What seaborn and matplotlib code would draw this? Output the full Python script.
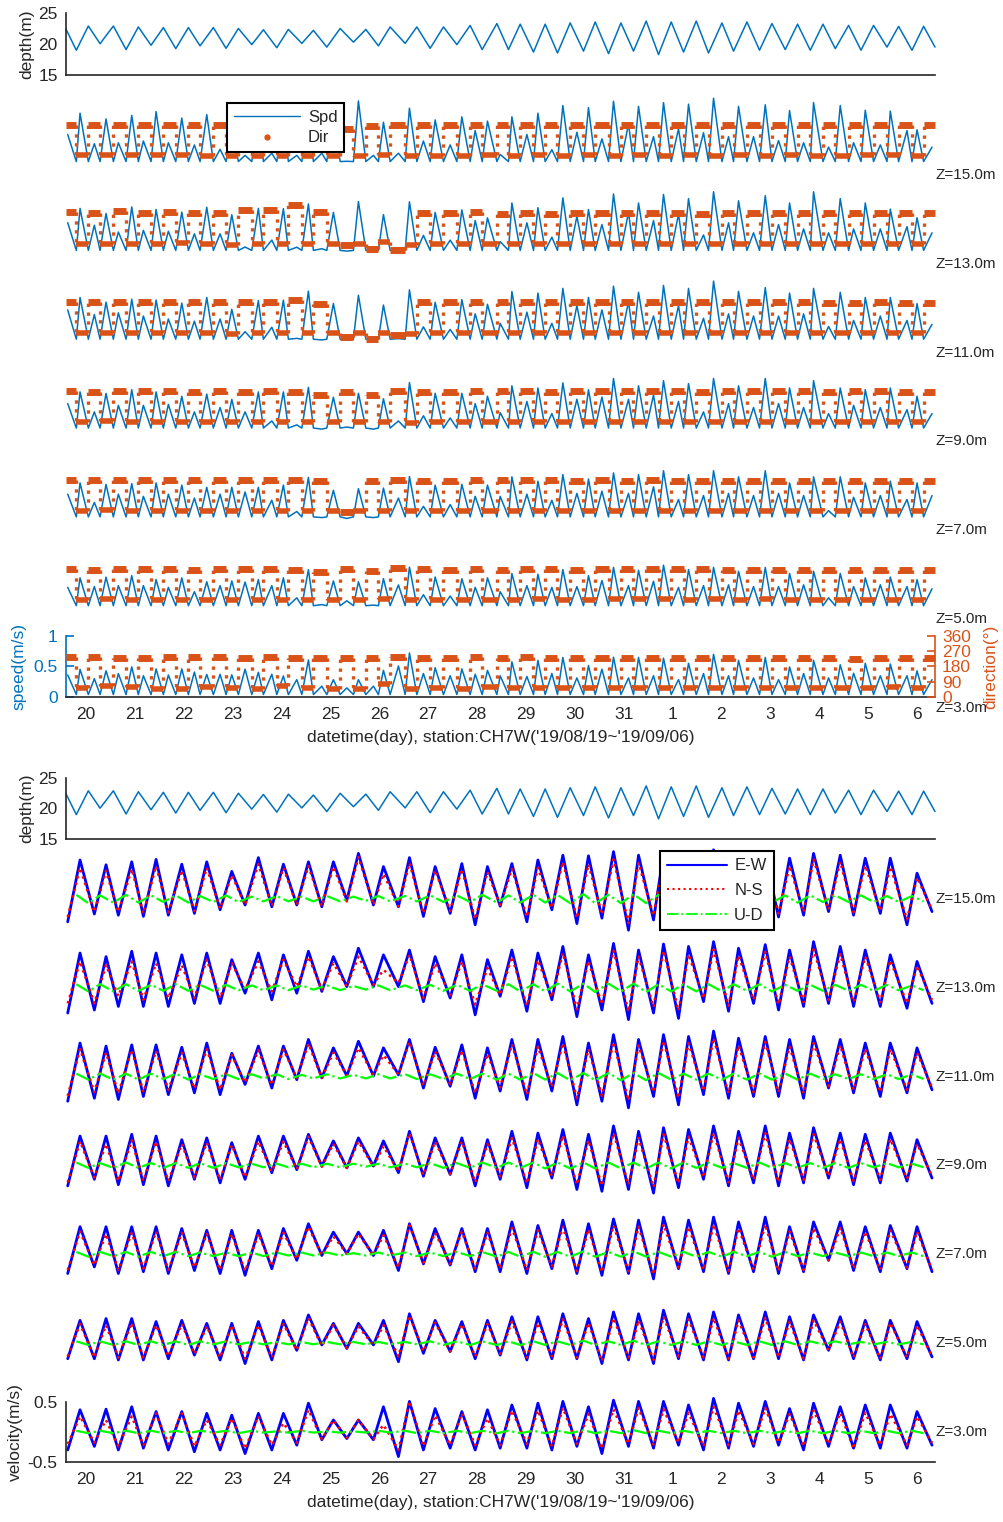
import numpy as np
import seaborn as sns
import matplotlib.pyplot as plt
from matplotlib.lines import Line2D

# ---------------- data ----------------
# time in "day of August"; September days continue as 32..37
T_START, T_END = 19.59, 37.37
DAY_TICKS = list(range(20, 38))
DAY_LABELS = ['20', '21', '22', '23', '24', '25', '26', '27', '28', '29', '30', '31',
              '1', '2', '3', '4', '5', '6']

# low water / high water times (also used as slack times)
T_LW = [19.801, 20.287, 20.819, 21.330, 21.836, 22.333, 22.865, 23.391, 23.903, 24.415,
        24.926, 25.471, 25.982, 26.529, 27.041, 27.587, 28.105, 28.643, 29.155, 29.646,
        30.178, 30.690, 31.201, 31.713, 32.225, 32.736, 33.248, 33.780, 34.306, 34.818,
        35.330, 35.856, 36.388, 36.899]
T_HW = [20.047, 20.559, 21.070, 21.582, 22.094, 22.605, 23.117, 23.629, 24.140, 24.652,
        25.199, 25.725, 26.222, 26.768, 27.313, 27.859, 28.406, 28.883, 29.394, 29.906,
        30.418, 30.944, 31.461, 31.973, 32.485, 33.011, 33.522, 34.034, 34.558, 35.078,
        35.602, 36.113, 36.625, 37.137]
# times of flood (positive) and ebb (negative) current extremes
T_FLOOD = [19.877, 20.409, 20.935, 21.433, 21.959, 22.470, 22.982, 23.526, 24.038, 24.550,
           25.061, 25.573, 26.085, 26.617, 27.143, 27.689, 28.213, 28.713, 29.245, 29.756,
           30.280, 30.792, 31.304, 31.815, 32.327, 32.839, 33.350, 33.897, 34.394, 34.885,
           35.431, 35.943, 36.455, 37.002]
T_EBB = [19.625, 20.170, 20.661, 21.173, 21.684, 22.217, 22.743, 23.254, 23.801, 24.312,
         24.824, 25.336, 25.880, 26.392, 26.903, 27.450, 27.962, 28.473, 29.020, 29.531,
         30.043, 30.555, 31.099, 31.611, 32.122, 32.634, 33.146, 33.657, 34.169, 34.681,
         35.192, 35.704, 36.251, 36.797, 37.309]

DEPTH_LW = [19.0, 20.05, 19.1, 19.8, 19.25, 19.7, 19.3, 19.9, 19.4, 20.1, 19.5, 20.3, 19.7,
            20.1, 19.3, 19.9, 19.1, 19.1, 18.7, 18.55, 18.85, 18.45, 18.85, 18.3, 18.7, 18.55,
            18.85, 19.0, 19.1, 19.0, 19.25, 19.0, 19.5, 19.0]
DEPTH_HW = [22.9, 22.9, 22.75, 22.65, 22.65, 22.65, 22.5, 22.3, 22.35, 22.2, 22.5, 22.35,
            22.75, 22.75, 22.75, 23.0, 23.3, 23.2, 23.2, 23.4, 23.55, 23.4, 23.7, 23.55, 23.7,
            23.4, 23.55, 23.3, 23.2, 23.2, 23.0, 23.0, 22.85, 22.85]
DEPTH_ENDS = [22.4, 19.5]

Z_LABELS = ['Z=15.0m', 'Z=13.0m', 'Z=11.0m', 'Z=9.0m', 'Z=7.0m', 'Z=5.0m', 'Z=3.0m']

# E-W velocity at flood / ebb extremes, one row per level (Z=15 ... Z=3)
EW_FLOOD = [
    [0.65, 0.57, 0.62, 0.66, 0.58, 0.62, 0.46, 0.69, 0.58, 0.62, 0.62, 0.76, 0.54, 0.69, 0.54, 0.59, 0.54,
     0.59, 0.65, 0.73, 0.72, 0.79, 0.73, 0.76, 0.76, 0.82, 0.73, 0.73, 0.68, 0.76, 0.73, 0.68, 0.68, 0.43],
    [0.58, 0.52, 0.61, 0.58, 0.55, 0.58, 0.47, 0.58, 0.55, 0.61, 0.52, 0.66, 0.55, 0.63, 0.52, 0.55, 0.47,
     0.63, 0.58, 0.69, 0.55, 0.74, 0.63, 0.73, 0.69, 0.77, 0.66, 0.72, 0.63, 0.77, 0.69, 0.63, 0.55, 0.44],
    [0.56, 0.51, 0.53, 0.53, 0.49, 0.56, 0.39, 0.51, 0.51, 0.62, 0.48, 0.59, 0.48, 0.62, 0.49, 0.53, 0.48,
     0.62, 0.62, 0.67, 0.56, 0.70, 0.62, 0.70, 0.67, 0.76, 0.64, 0.67, 0.62, 0.67, 0.62, 0.56, 0.56, 0.48],
    [0.49, 0.49, 0.52, 0.49, 0.43, 0.46, 0.38, 0.49, 0.49, 0.52, 0.41, 0.46, 0.41, 0.57, 0.46, 0.46, 0.43,
     0.57, 0.54, 0.60, 0.52, 0.66, 0.57, 0.63, 0.60, 0.66, 0.57, 0.66, 0.54, 0.63, 0.54, 0.52, 0.54, 0.43],
    [0.46, 0.46, 0.46, 0.46, 0.43, 0.40, 0.40, 0.40, 0.43, 0.51, 0.37, 0.37, 0.40, 0.51, 0.43, 0.43, 0.43,
     0.54, 0.48, 0.57, 0.51, 0.59, 0.57, 0.62, 0.57, 0.62, 0.54, 0.62, 0.46, 0.54, 0.54, 0.46, 0.48, 0.46],
    [0.38, 0.41, 0.41, 0.36, 0.38, 0.33, 0.33, 0.36, 0.38, 0.47, 0.33, 0.33, 0.38, 0.49, 0.38, 0.36, 0.38,
     0.44, 0.44, 0.49, 0.41, 0.52, 0.49, 0.55, 0.49, 0.52, 0.47, 0.52, 0.44, 0.47, 0.44, 0.38, 0.38, 0.36],
    [0.37, 0.38, 0.42, 0.34, 0.34, 0.31, 0.28, 0.31, 0.31, 0.48, 0.20, 0.20, 0.42, 0.51, 0.39, 0.34, 0.37,
     0.45, 0.48, 0.51, 0.42, 0.53, 0.51, 0.51, 0.45, 0.56, 0.48, 0.51, 0.39, 0.48, 0.42, 0.45, 0.45, 0.34],
]
EW_EBB = [
    [-0.38, -0.25, -0.27, -0.29, -0.27, -0.24, -0.18, -0.10, -0.13, -0.10, -0.13, -0.02, -0.10, -0.13, -0.29, -0.24, -0.43,
     -0.12, -0.38, -0.18, -0.41, -0.32, -0.52, -0.35, -0.45, -0.40, -0.35, -0.35, -0.30, -0.27, -0.21, -0.27, -0.24, -0.43, -0.21],
    [-0.42, -0.37, -0.31, -0.31, -0.31, -0.26, -0.26, -0.09, -0.20, -0.09, -0.06, 0.02, 0.02, 0.02, -0.23, -0.17, -0.45,
     -0.14, -0.39, -0.20, -0.48, -0.37, -0.53, -0.42, -0.51, -0.23, -0.39, -0.26, -0.37, -0.31, -0.26, -0.31, -0.31, -0.34, -0.26],
    [-0.41, -0.36, -0.38, -0.33, -0.30, -0.27, -0.30, -0.13, -0.19, -0.05, -0.02, 0.01, 0.01, 0.03, -0.19, -0.16, -0.36,
     -0.24, -0.38, -0.24, -0.47, -0.41, -0.52, -0.33, -0.47, -0.30, -0.36, -0.33, -0.33, -0.36, -0.19, -0.27, -0.33, -0.27, -0.22],
    [-0.34, -0.23, -0.32, -0.32, -0.34, -0.23, -0.29, -0.23, -0.12, -0.07, -0.01, -0.04, -0.01, -0.12, -0.18, -0.15, -0.34,
     -0.23, -0.37, -0.21, -0.40, -0.43, -0.40, -0.46, -0.37, -0.23, -0.34, -0.29, -0.34, -0.29, -0.21, -0.32, -0.29, -0.26, -0.21],
    [-0.32, -0.21, -0.32, -0.29, -0.32, -0.27, -0.32, -0.35, -0.24, -0.10, -0.02, 0.01, -0.02, -0.27, -0.16, -0.18, -0.29,
     -0.29, -0.32, -0.24, -0.32, -0.35, -0.32, -0.41, -0.24, -0.29, -0.32, -0.29, -0.32, -0.29, -0.10, -0.27, -0.29, -0.24, -0.29],
    [-0.26, -0.26, -0.28, -0.28, -0.26, -0.20, -0.28, -0.34, -0.28, -0.12, -0.03, -0.09, -0.03, -0.31, -0.17, -0.14, -0.26,
     -0.20, -0.28, -0.26, -0.26, -0.34, -0.28, -0.34, -0.26, -0.28, -0.28, -0.26, -0.26, -0.28, -0.12, -0.26, -0.28, -0.26, -0.23],
    [-0.30, -0.24, -0.30, -0.27, -0.30, -0.33, -0.30, -0.36, -0.30, -0.22, -0.13, -0.11, -0.13, -0.41, -0.30, -0.27, -0.30,
     -0.27, -0.27, -0.30, -0.24, -0.36, -0.24, -0.27, -0.22, -0.30, -0.27, -0.24, -0.22, -0.30, -0.24, -0.27, -0.27, -0.27, -0.22],
]
# N-S velocity at the same extremes
NS_FLOOD = [
    [0.52, 0.47, 0.50, 0.55, 0.48, 0.52, 0.40, 0.58, 0.52, 0.55, 0.54, 0.70, 0.42, 0.60, 0.48, 0.50, 0.45,
     0.50, 0.52, 0.62, 0.58, 0.66, 0.60, 0.66, 0.62, 0.70, 0.60, 0.64, 0.55, 0.66, 0.62, 0.56, 0.54, 0.36],
    [0.44, 0.38, 0.44, 0.41, 0.38, 0.47, 0.41, 0.44, 0.47, 0.52, 0.41, 0.52, 0.30, 0.55, 0.41, 0.44, 0.33,
     0.52, 0.46, 0.58, 0.45, 0.62, 0.52, 0.62, 0.56, 0.64, 0.54, 0.60, 0.52, 0.64, 0.56, 0.52, 0.46, 0.37],
    [0.46, 0.40, 0.45, 0.43, 0.40, 0.46, 0.36, 0.44, 0.45, 0.55, 0.40, 0.48, 0.36, 0.58, 0.42, 0.44, 0.38,
     0.54, 0.50, 0.56, 0.46, 0.58, 0.52, 0.60, 0.56, 0.64, 0.52, 0.58, 0.50, 0.56, 0.52, 0.46, 0.46, 0.40],
    [0.40, 0.36, 0.42, 0.40, 0.36, 0.38, 0.34, 0.40, 0.40, 0.48, 0.36, 0.40, 0.32, 0.54, 0.40, 0.40, 0.36,
     0.46, 0.44, 0.50, 0.42, 0.54, 0.46, 0.52, 0.48, 0.54, 0.46, 0.54, 0.44, 0.52, 0.44, 0.42, 0.44, 0.36],
    [0.38, 0.34, 0.36, 0.38, 0.36, 0.34, 0.34, 0.34, 0.36, 0.46, 0.30, 0.34, 0.32, 0.48, 0.36, 0.38, 0.36,
     0.44, 0.40, 0.46, 0.42, 0.48, 0.46, 0.50, 0.46, 0.50, 0.44, 0.50, 0.38, 0.44, 0.44, 0.38, 0.40, 0.38],
    [0.32, 0.30, 0.34, 0.30, 0.32, 0.28, 0.30, 0.30, 0.32, 0.42, 0.30, 0.28, 0.30, 0.46, 0.34, 0.32, 0.32,
     0.36, 0.34, 0.40, 0.34, 0.42, 0.38, 0.44, 0.40, 0.42, 0.38, 0.42, 0.36, 0.38, 0.36, 0.32, 0.34, 0.30],
    [0.26, 0.20, 0.26, 0.31, 0.31, 0.20, 0.23, 0.26, 0.15, 0.37, 0.20, 0.20, 0.12, 0.51, 0.28, 0.31, 0.23,
     0.36, 0.36, 0.40, 0.30, 0.38, 0.40, 0.38, 0.32, 0.42, 0.36, 0.40, 0.30, 0.36, 0.32, 0.32, 0.30, 0.26],
]
NS_EBB = [
    [-0.30, -0.22, -0.22, -0.24, -0.22, -0.20, -0.16, -0.10, -0.12, -0.10, -0.12, -0.04, -0.10, -0.12, -0.24, -0.20, -0.34,
     -0.10, -0.30, -0.15, -0.32, -0.26, -0.40, -0.28, -0.36, -0.32, -0.28, -0.28, -0.24, -0.22, -0.18, -0.22, -0.20, -0.34, -0.18],
    [-0.26, -0.26, -0.14, -0.20, -0.17, -0.17, -0.17, -0.03, -0.06, 0.02, -0.03, 0.02, 0.05, 0.08, -0.17, -0.12, -0.28,
     -0.12, -0.30, -0.16, -0.36, -0.28, -0.40, -0.32, -0.38, -0.18, -0.30, -0.20, -0.28, -0.24, -0.20, -0.24, -0.24, -0.26, -0.20],
    [-0.32, -0.26, -0.28, -0.26, -0.22, -0.20, -0.22, -0.10, -0.14, -0.02, -0.02, 0.02, 0.03, 0.04, -0.15, -0.12, -0.28,
     -0.18, -0.30, -0.18, -0.36, -0.32, -0.40, -0.26, -0.36, -0.24, -0.28, -0.26, -0.26, -0.28, -0.16, -0.22, -0.26, -0.22, -0.18],
    [-0.28, -0.20, -0.26, -0.26, -0.26, -0.20, -0.24, -0.20, -0.10, -0.06, -0.02, -0.04, -0.02, -0.10, -0.16, -0.14, -0.28,
     -0.18, -0.30, -0.18, -0.32, -0.34, -0.32, -0.36, -0.30, -0.20, -0.28, -0.24, -0.28, -0.24, -0.18, -0.26, -0.24, -0.22, -0.18],
    [-0.26, -0.18, -0.26, -0.24, -0.26, -0.22, -0.26, -0.28, -0.20, -0.08, -0.02, 0.01, -0.02, -0.22, -0.14, -0.16, -0.24,
     -0.24, -0.26, -0.20, -0.28, -0.30, -0.28, -0.34, -0.22, -0.26, -0.28, -0.26, -0.28, -0.26, -0.10, -0.24, -0.26, -0.22, -0.26],
    [-0.22, -0.24, -0.24, -0.24, -0.22, -0.18, -0.24, -0.26, -0.24, -0.12, -0.05, -0.08, -0.04, -0.22, -0.14, -0.14, -0.22,
     -0.18, -0.24, -0.22, -0.24, -0.30, -0.24, -0.28, -0.22, -0.24, -0.26, -0.24, -0.24, -0.26, -0.12, -0.24, -0.26, -0.24, -0.22],
    [-0.20, -0.18, -0.24, -0.22, -0.20, -0.24, -0.22, -0.28, -0.22, -0.18, -0.12, -0.10, -0.12, -0.30, -0.24, -0.22, -0.22,
     -0.22, -0.20, -0.24, -0.20, -0.28, -0.20, -0.22, -0.18, -0.24, -0.22, -0.20, -0.18, -0.24, -0.20, -0.28, -0.22, -0.22, -0.18],
]
# U-D velocity: positive extremes near low water, negative near high water
UD_LW = [
    [0.07, 0.06, 0.07, 0.06, 0.06, 0.05, 0.06, 0.04, 0.05, 0.04, 0.05, 0.04, 0.05, 0.05, 0.06, 0.06, 0.07,
     0.06, 0.07, 0.07, 0.08, 0.07, 0.08, 0.07, 0.07, 0.07, 0.06, 0.07, 0.06, 0.06, 0.06, 0.06, 0.05, 0.05],
    [0.06, 0.06, 0.06, 0.05, 0.06, 0.05, 0.05, 0.04, 0.04, 0.04, 0.04, 0.03, 0.04, 0.04, 0.05, 0.05, 0.06,
     0.06, 0.06, 0.07, 0.07, 0.07, 0.07, 0.06, 0.06, 0.06, 0.06, 0.06, 0.05, 0.05, 0.05, 0.05, 0.05, 0.04],
    [0.05, 0.05, 0.05, 0.05, 0.05, 0.04, 0.04, 0.04, 0.04, 0.03, 0.04, 0.03, 0.04, 0.04, 0.04, 0.05, 0.05,
     0.05, 0.06, 0.06, 0.06, 0.06, 0.06, 0.06, 0.05, 0.05, 0.05, 0.05, 0.05, 0.05, 0.04, 0.04, 0.04, 0.04],
    [0.05, 0.04, 0.05, 0.04, 0.04, 0.04, 0.04, 0.03, 0.03, 0.03, 0.03, 0.03, 0.03, 0.03, 0.04, 0.04, 0.05,
     0.05, 0.05, 0.05, 0.05, 0.05, 0.05, 0.05, 0.05, 0.05, 0.04, 0.05, 0.04, 0.04, 0.04, 0.04, 0.04, 0.03],
    [0.04, 0.04, 0.04, 0.04, 0.04, 0.03, 0.03, 0.03, 0.03, 0.03, 0.03, 0.02, 0.03, 0.03, 0.03, 0.04, 0.04,
     0.04, 0.04, 0.04, 0.05, 0.04, 0.05, 0.04, 0.04, 0.04, 0.04, 0.04, 0.04, 0.03, 0.03, 0.03, 0.03, 0.03],
    [0.03, 0.03, 0.03, 0.03, 0.03, 0.03, 0.03, 0.02, 0.02, 0.02, 0.02, 0.02, 0.02, 0.02, 0.03, 0.03, 0.03,
     0.03, 0.03, 0.03, 0.04, 0.03, 0.04, 0.03, 0.03, 0.03, 0.03, 0.03, 0.03, 0.03, 0.03, 0.02, 0.02, 0.02],
    [0.02, 0.02, 0.02, 0.02, 0.02, 0.02, 0.02, 0.02, 0.01, 0.02, 0.01, 0.01, 0.02, 0.02, 0.02, 0.02, 0.02,
     0.02, 0.02, 0.02, 0.03, 0.02, 0.03, 0.02, 0.02, 0.02, 0.02, 0.02, 0.02, 0.02, 0.02, 0.02, 0.02, 0.02],
]
UD_HW = [
    [-0.07, -0.06, -0.06, -0.05, -0.06, -0.05, -0.05, -0.04, -0.04, -0.04, -0.04, -0.03, -0.04, -0.04, -0.05, -0.05, -0.06,
     -0.06, -0.06, -0.07, -0.07, -0.07, -0.07, -0.07, -0.06, -0.06, -0.06, -0.06, -0.06, -0.05, -0.05, -0.05, -0.05, -0.04],
    [-0.06, -0.06, -0.05, -0.05, -0.05, -0.05, -0.04, -0.04, -0.04, -0.03, -0.04, -0.03, -0.04, -0.04, -0.05, -0.05, -0.05,
     -0.06, -0.06, -0.06, -0.07, -0.06, -0.07, -0.06, -0.06, -0.06, -0.05, -0.06, -0.05, -0.05, -0.05, -0.05, -0.04, -0.04],
    [-0.05, -0.05, -0.05, -0.04, -0.05, -0.04, -0.04, -0.03, -0.04, -0.03, -0.03, -0.03, -0.03, -0.04, -0.04, -0.04, -0.05,
     -0.05, -0.05, -0.06, -0.06, -0.06, -0.06, -0.05, -0.05, -0.05, -0.05, -0.05, -0.05, -0.04, -0.04, -0.04, -0.04, -0.04],
    [-0.04, -0.04, -0.04, -0.04, -0.04, -0.04, -0.03, -0.03, -0.03, -0.03, -0.03, -0.02, -0.03, -0.03, -0.04, -0.04, -0.04,
     -0.04, -0.05, -0.05, -0.05, -0.05, -0.05, -0.05, -0.04, -0.04, -0.04, -0.04, -0.04, -0.04, -0.04, -0.03, -0.03, -0.03],
    [-0.04, -0.03, -0.04, -0.03, -0.03, -0.03, -0.03, -0.03, -0.02, -0.02, -0.02, -0.02, -0.02, -0.03, -0.03, -0.03, -0.04,
     -0.04, -0.04, -0.04, -0.04, -0.04, -0.04, -0.04, -0.04, -0.04, -0.03, -0.04, -0.03, -0.03, -0.03, -0.03, -0.03, -0.03],
    [-0.03, -0.03, -0.03, -0.03, -0.03, -0.02, -0.02, -0.02, -0.02, -0.02, -0.02, -0.02, -0.02, -0.02, -0.03, -0.03, -0.03,
     -0.03, -0.03, -0.03, -0.03, -0.03, -0.03, -0.03, -0.03, -0.03, -0.03, -0.03, -0.03, -0.02, -0.02, -0.02, -0.02, -0.02],
    [-0.02, -0.02, -0.02, -0.02, -0.02, -0.01, -0.02, -0.01, -0.01, -0.01, -0.01, -0.01, -0.01, -0.02, -0.02, -0.02, -0.02,
     -0.02, -0.02, -0.02, -0.02, -0.02, -0.02, -0.02, -0.02, -0.02, -0.02, -0.02, -0.02, -0.02, -0.02, -0.02, -0.02, -0.02],
]
SPD_SLACK = 0.04  # speed at slack water

# ---------------- style ----------------
sns.set_style('white')
plt.rcParams['font.family'] = ['Liberation Sans', 'DejaVu Sans']
plt.rcParams['font.size'] = 12.5

C_SPD = '#0072BD'
C_DIR = '#D95319'
C_DARK = '#262626'
FS = 12.5      # tick / axis label size
FS_Z = 11      # level labels
W, H = 1004, 1522
X0, XW = 66, 869
XLABEL = "datetime(day), station:CH7W('19/08/19~'19/09/06)"


def series(times, values):
    t = np.concatenate([np.asarray(a, float) for a in times])
    v = np.concatenate([np.asarray(a, float) for a in values])
    o = np.argsort(t)
    return t[o], v[o]


def add_axes(top, bottom):
    ax = fig.add_axes([X0 / W, 1 - bottom / H, XW / W, (bottom - top) / H])
    ax.set_xlim(T_START, T_END)
    return ax


def line(ax, t, v, **kw):
    sns.lineplot(x=t, y=v, ax=ax, estimator=None, sort=False, legend=False, **kw)
    for ln in ax.lines:
        ln.set_clip_on(False)


def day_axis(ax, labels):
    ax.set_xticks(DAY_TICKS)
    ax.set_xticklabels(DAY_LABELS if labels else [])
    ax.tick_params(axis='x', direction='in', length=6, width=1.2, colors=C_DARK, pad=7,
                   labelsize=FS)
    ax.spines['bottom'].set_color(C_DARK)
    ax.spines['bottom'].set_linewidth(1.2)


def depth_panel(top, bottom):
    ax = add_axes(top, bottom)
    t, v = series([T_LW, T_HW, [T_START, T_END]], [DEPTH_LW, DEPTH_HW, DEPTH_ENDS])
    line(ax, t, v, color=C_SPD, lw=1.1)
    ax.set_ylim(15, 25)
    ax.set_yticks([15, 20, 25])
    for s in ['top', 'right']:
        ax.spines[s].set_visible(False)
    ax.spines['left'].set_color(C_DARK)
    ax.spines['left'].set_linewidth(1.2)
    ax.tick_params(axis='y', direction='in', length=6, width=1.2, colors=C_DARK, labelsize=FS, pad=6)
    day_axis(ax, False)
    ax.set_ylabel('depth(m)', color=C_DARK, fontsize=FS)
    ax.yaxis.set_label_coords(-0.037, 0.5)
    return ax


fig = plt.figure(figsize=(W / 100, H / 100), dpi=100)

# ================= top group: speed / direction =================
depth_panel(13, 75)
STEP = 88.83
for i, zl in enumerate(Z_LABELS):
    bottom = 164 + STEP * i
    ax = add_axes(bottom - 61, bottom)
    ewf, ewe = np.array(EW_FLOOD[i]), np.array(EW_EBB[i])
    nsf, nse = np.array(NS_FLOOD[i]), np.array(NS_EBB[i])
    spd_f, spd_e = np.hypot(ewf, nsf), np.hypot(ewe, nse)
    dir_f = np.degrees(np.arctan2(ewf, nsf)) % 360
    dir_e = np.degrees(np.arctan2(ewe, nse)) % 360
    slack = np.full(len(T_LW), SPD_SLACK)
    t, v = series([T_FLOOD, T_EBB, T_LW, T_HW], [spd_f, spd_e, slack, slack])
    line(ax, t, v, color=C_SPD, lw=1.1)
    ax.set_ylim(0, 1)

    ax2 = ax.twinx()
    ax2.set_xlim(T_START, T_END)
    ax2.set_ylim(0, 360)
    # flood band (low water -> high water) and ebb band (high water -> next low water)
    ax2.hlines(dir_f, T_LW, T_HW, color=C_DIR, lw=4, clip_on=False)
    ax2.hlines(dir_e, [T_START] + T_HW, T_LW + [T_END], color=C_DIR, lw=5, clip_on=False)
    # turning of the current at slack water
    ax2.vlines(T_LW, dir_e[:-1], dir_f, color=C_DIR, lw=2.4, linestyles=':', clip_on=False)
    ax2.vlines(T_HW, dir_f, dir_e[1:], color=C_DIR, lw=2.4, linestyles=':', clip_on=False)

    if i < len(Z_LABELS) - 1:
        ax.axis('off')
        ax2.axis('off')
        ax.text(1.0, -11 / 61, zl, transform=ax.transAxes, ha='left', va='center', fontsize=FS_Z)
    else:
        ax.spines['top'].set_visible(False)
        ax2.spines['top'].set_visible(False)
        ax.spines['left'].set_color(C_SPD)
        ax.spines['left'].set_linewidth(1.2)
        ax2.spines['left'].set_visible(False)
        ax2.spines['bottom'].set_visible(False)
        ax2.spines['right'].set_color(C_DIR)
        ax2.spines['right'].set_linewidth(1.2)
        ax.spines['right'].set_visible(False)
        ax.set_yticks([0, 0.5, 1])
        ax.set_yticklabels(['0', '0.5', '1'])
        ax.tick_params(axis='y', direction='in', length=6, width=1.2, colors=C_SPD, labelsize=FS, pad=6)
        ax2.set_yticks([0, 90, 180, 270, 360])
        ax2.tick_params(axis='y', direction='in', length=6, width=1.2, colors=C_DIR, labelsize=FS, pad=5)
        day_axis(ax, True)
        ax.set_ylabel('speed(m/s)', color=C_SPD, fontsize=FS)
        ax.yaxis.set_label_coords(-0.045, 0.5)
        ax2.set_ylabel('direction(°)', color=C_DIR, fontsize=FS)
        ax2.yaxis.set_label_coords(1.055, 0.5)
        ax.set_xlabel(XLABEL, color=C_DARK, fontsize=FS, labelpad=6)
        ax2.text(1.0, -11 / 61, zl, transform=ax2.transAxes, ha='left', va='center', fontsize=FS_Z)
    if i == 0:
        handles = [Line2D([], [], color=C_SPD, lw=1.0),
                   Line2D([], [], color=C_DIR, ls='none', marker='.', ms=7)]
        leg = fig.legend(handles, ['Spd', 'Dir'], loc='upper left',
                         bbox_to_anchor=(227 / W, 1 - 103 / H), borderaxespad=0,
                         frameon=True, fancybox=False, framealpha=1, edgecolor='black',
                         handlelength=4.0, handletextpad=0.45, labelspacing=0.35,
                         borderpad=0.4, fontsize=12)
        leg.get_frame().set_linewidth(1.5)

# ================= bottom group: velocity components =================
depth_panel(778, 839)
for i, zl in enumerate(Z_LABELS):
    c = 899 + STEP * i
    ax = add_axes(c - 30, c + 30)
    t, v = series([T_FLOOD, T_EBB], [EW_FLOOD[i], EW_EBB[i]])
    line(ax, t, v, color='#0000FF', lw=2.0)
    t, v = series([T_FLOOD, T_EBB], [NS_FLOOD[i], NS_EBB[i]])
    line(ax, t, v, color='#FF0000', lw=1.8, linestyle=':')
    t, v = series([T_LW, T_HW], [UD_LW[i], UD_HW[i]])
    line(ax, t, v, color='#00FF00', lw=1.6, linestyle='-.')
    ax.set_ylim(-0.5, 0.5)
    ax.text(1.0, 0.5, zl, transform=ax.transAxes, ha='left', va='center', fontsize=FS_Z)
    if i < len(Z_LABELS) - 1:
        ax.axis('off')
    else:
        for s in ['top', 'right']:
            ax.spines[s].set_visible(False)
        ax.spines['left'].set_color(C_DARK)
        ax.spines['left'].set_linewidth(1.2)
        ax.set_yticks([-0.5, 0.5])
        ax.set_yticklabels(['-0.5', '0.5'])
        ax.tick_params(axis='y', direction='in', length=6, width=1.2, colors=C_DARK, labelsize=FS, pad=6)
        day_axis(ax, True)
        ax.set_ylabel('velocity(m/s)', color=C_DARK, fontsize=FS)
        ax.yaxis.set_label_coords(-0.05, 0.5)
        ax.set_xlabel(XLABEL, color=C_DARK, fontsize=FS, labelpad=6)
    if i == 0:
        handles = [Line2D([], [], color='#0000FF', lw=1.5),
                   Line2D([], [], color='#FF0000', lw=1.5, ls=':'),
                   Line2D([], [], color='#00FF00', lw=1.3, ls='-.')]
        leg = fig.legend(handles, ['E-W', 'N-S', 'U-D'], loc='upper left',
                         bbox_to_anchor=(660 / W, 1 - 851 / H), borderaxespad=0,
                         frameon=True, fancybox=False, framealpha=1, edgecolor='black',
                         handlelength=3.6, handletextpad=0.4, labelspacing=0.58,
                         borderpad=0.45, fontsize=12)
        leg.get_frame().set_linewidth(1.5)

fig.savefig('out.png', dpi=100)
